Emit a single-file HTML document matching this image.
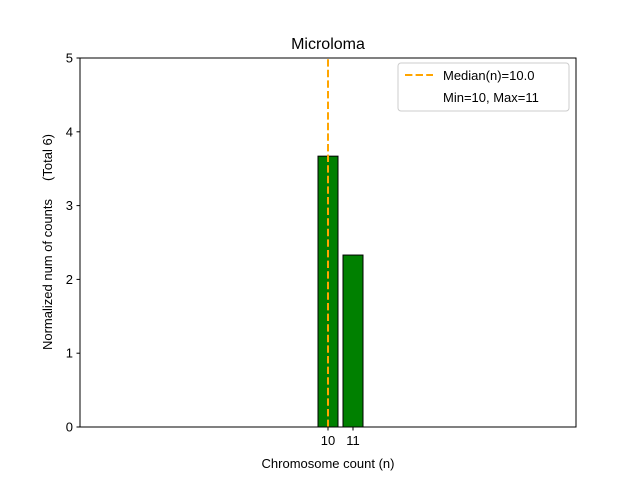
<!DOCTYPE html>
<html><head><meta charset="utf-8"><style>
body{margin:0;background:#fff;}
svg{font-family:"Liberation Sans","DejaVu Sans",sans-serif;}
</style></head><body>
<svg id="c" width="640" height="480" xmlns="http://www.w3.org/2000/svg">
<rect width="640" height="480" fill="#fff"/>
<text x="328" y="49" font-size="16" text-anchor="middle">Microloma</text>
<g id="bars"></g>
<g id="yt"></g>
<g id="xt"></g>
<line id="med" stroke="#ffa500" stroke-width="2" stroke-dasharray="7.4,3.2"/>
<rect x="80" y="58" width="496" height="369" fill="none" stroke="#000" stroke-width="1"/>
<text x="328" y="468" font-size="13" text-anchor="middle">Chromosome count (n)</text>
<text transform="translate(52,242) rotate(-90)" font-size="13" text-anchor="middle" xml:space="preserve">Normalized num of counts     (Total 6)</text>
<g>
<rect x="398" y="63" width="171" height="48" rx="3" fill="#fff" stroke="#ccc"/>
<line x1="405" y1="75" x2="433" y2="75" stroke="#ffa500" stroke-width="2" stroke-dasharray="7.4,3.2"/>
<text x="443" y="80" font-size="13">Median(n)=10.0</text>
<text x="443" y="102" font-size="13">Min=10, Max=11</text>
</g>
</svg>
<script>
const categories=[10,11];
const values=[3.67,2.33];
const yTicks=[0,1,2,3,4,5];
const xTickLabels=["10","11"];
const median=10;
const L=80,R=576,T=58,B=427,xmin=0.08,xmax=19.92,ymin=0,ymax=5;
const X=v=>L+(v-xmin)/(xmax-xmin)*(R-L);
const Y=v=>B-(v-ymin)/(ymax-ymin)*(B-T);
const ns="http://www.w3.org/2000/svg";
const mk=(t,a,p)=>{const e=document.createElementNS(ns,t);for(const k in a)e.setAttribute(k,a[k]);p.appendChild(e);return e;};
const bars=document.getElementById('bars');
categories.forEach((c,i)=>{
 const w=X(c+0.4)-X(c-0.4);
 const r=mk('rect',{x:X(c-0.4),y:Y(values[i]),width:w,height:Y(0)-Y(values[i]),fill:'#008000',stroke:'#000','stroke-width':1},bars);
 
 
});
const yt=document.getElementById('yt');
yTicks.forEach(v=>{
 const l=mk('line',{x1:L-3.5,x2:L,y1:Y(v),y2:Y(v),stroke:'#000'},yt);
 
 
 const t=mk('text',{x:L-7,y:Y(v)+4.5,'font-size':13,'text-anchor':'end'},yt);
 t.textContent=v;
 
 
});
const xt=document.getElementById('xt');
categories.forEach((c,i)=>{
 const l=mk('line',{x1:X(c),x2:X(c),y1:B,y2:B+3.5,stroke:'#000'},xt);
 
 
 const t=mk('text',{x:X(c),y:B+18,'font-size':13,'text-anchor':'middle'},xt);
 t.textContent=xTickLabels[i];
 
 
});
const m=document.getElementById('med');
m.setAttribute('x1',X(median));m.setAttribute('x2',X(median));
m.setAttribute('y1',Y(0));m.setAttribute('y2',Y(5));
</script>
</body></html>
